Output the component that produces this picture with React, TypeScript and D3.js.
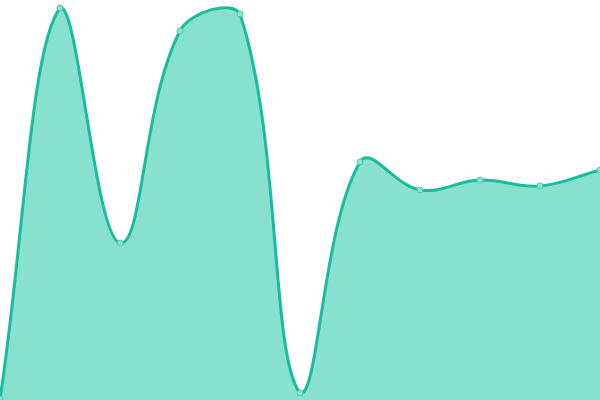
import * as React from 'react'
import { useEffect, useRef } from 'react'
import * as d3 from 'd3'

// chart values
const labels = ['1', '2', '3', '4', '5', '6', '7', '8', '9', '10', '11']
const values = [1, 392, 157, 369, 386, 7, 238, 210, 220, 214, 230]
const yDomain = [0, 400]

const width = 600
const height = 400
const tension = 0.4

// spline like the one chart.js draws: control points scaled by segment length, capped to the area
class SplineCurve {
    _context: any
    _line: number
    _pts: number[][]
    constructor(context) {
        this._context = context
    }
    areaStart() { this._line = 0 }
    areaEnd() { this._line = NaN }
    lineStart() { this._pts = [] }
    point(x, y) { this._pts.push([+x, +y]) }
    lineEnd() {
        const p = this._pts
        const c = this._context
        const cap = (v, lo, hi) => Math.max(lo, Math.min(hi, v))
        if (p.length) {
            if (this._line) c.lineTo(p[0][0], p[0][1])
            else c.moveTo(p[0][0], p[0][1])
            const cps = p.map((cur, i) => {
                const prev = p[i - 1] || cur
                const next = p[i + 1] || cur
                const d01 = Math.hypot(cur[0] - prev[0], cur[1] - prev[1])
                const d12 = Math.hypot(next[0] - cur[0], next[1] - cur[1])
                let s01 = d01 / (d01 + d12)
                let s12 = d12 / (d01 + d12)
                if (isNaN(s01)) s01 = 0
                if (isNaN(s12)) s12 = 0
                const fa = tension * s01
                const fb = tension * s12
                return {
                    prev: [cap(cur[0] - fa * (next[0] - prev[0]), 0, width), cap(cur[1] - fa * (next[1] - prev[1]), 0, height)],
                    next: [cap(cur[0] + fb * (next[0] - prev[0]), 0, width), cap(cur[1] + fb * (next[1] - prev[1]), 0, height)],
                }
            })
            for (let i = 1; i < p.length; i++) {
                c.bezierCurveTo(cps[i - 1].next[0], cps[i - 1].next[1], cps[i].prev[0], cps[i].prev[1], p[i][0], p[i][1])
            }
        }
        if (this._line || (this._line !== 0 && p.length === 1)) c.closePath()
        this._line = 1 - this._line
    }
}

const chartSpline = (context) => new SplineCurve(context)

const App = () => {
    const chartRef = useRef(null)

    useEffect(() => {
        document.body.style.margin = '0'
        const svg = d3.select(chartRef.current)
        svg.selectAll('*').remove()

        const xScale = d3.scalePoint().domain(labels).range([0, width])
        const yScale = d3.scaleLinear().domain(yDomain).range([height, 0])

        const data = labels.map((l, i) => ({ label: l, value: values[i] }))

        const area = d3.area()
            .x(d => xScale(d.label))
            .y0(yScale(yDomain[0]))
            .y1(d => yScale(d.value))
            .curve(chartSpline)

        const line = d3.line()
            .x(d => xScale(d.label))
            .y(d => yScale(d.value))
            .curve(chartSpline)

        svg.append('path')
            .datum(data)
            .attr('d', area)
            .attr('fill', '#88e0cf')

        svg.append('path')
            .datum(data)
            .attr('d', line)
            .attr('fill', 'none')
            .attr('stroke', '#1abc9c')
            .attr('stroke-width', 3)
            .attr('stroke-linejoin', 'round')

        svg.selectAll('circle')
            .data(data)
            .enter()
            .append('circle')
            .attr('cx', d => xScale(d.label))
            .attr('cy', d => yScale(d.value))
            .attr('r', 3)
            .attr('fill', '#8ee2d1')
            .attr('stroke', '#45cfae')
            .attr('stroke-width', 1)
    }, [])

    return (
        <svg ref={chartRef} width={width} height={height} style={{ display: 'block' }}></svg>
    )
}

export default App
